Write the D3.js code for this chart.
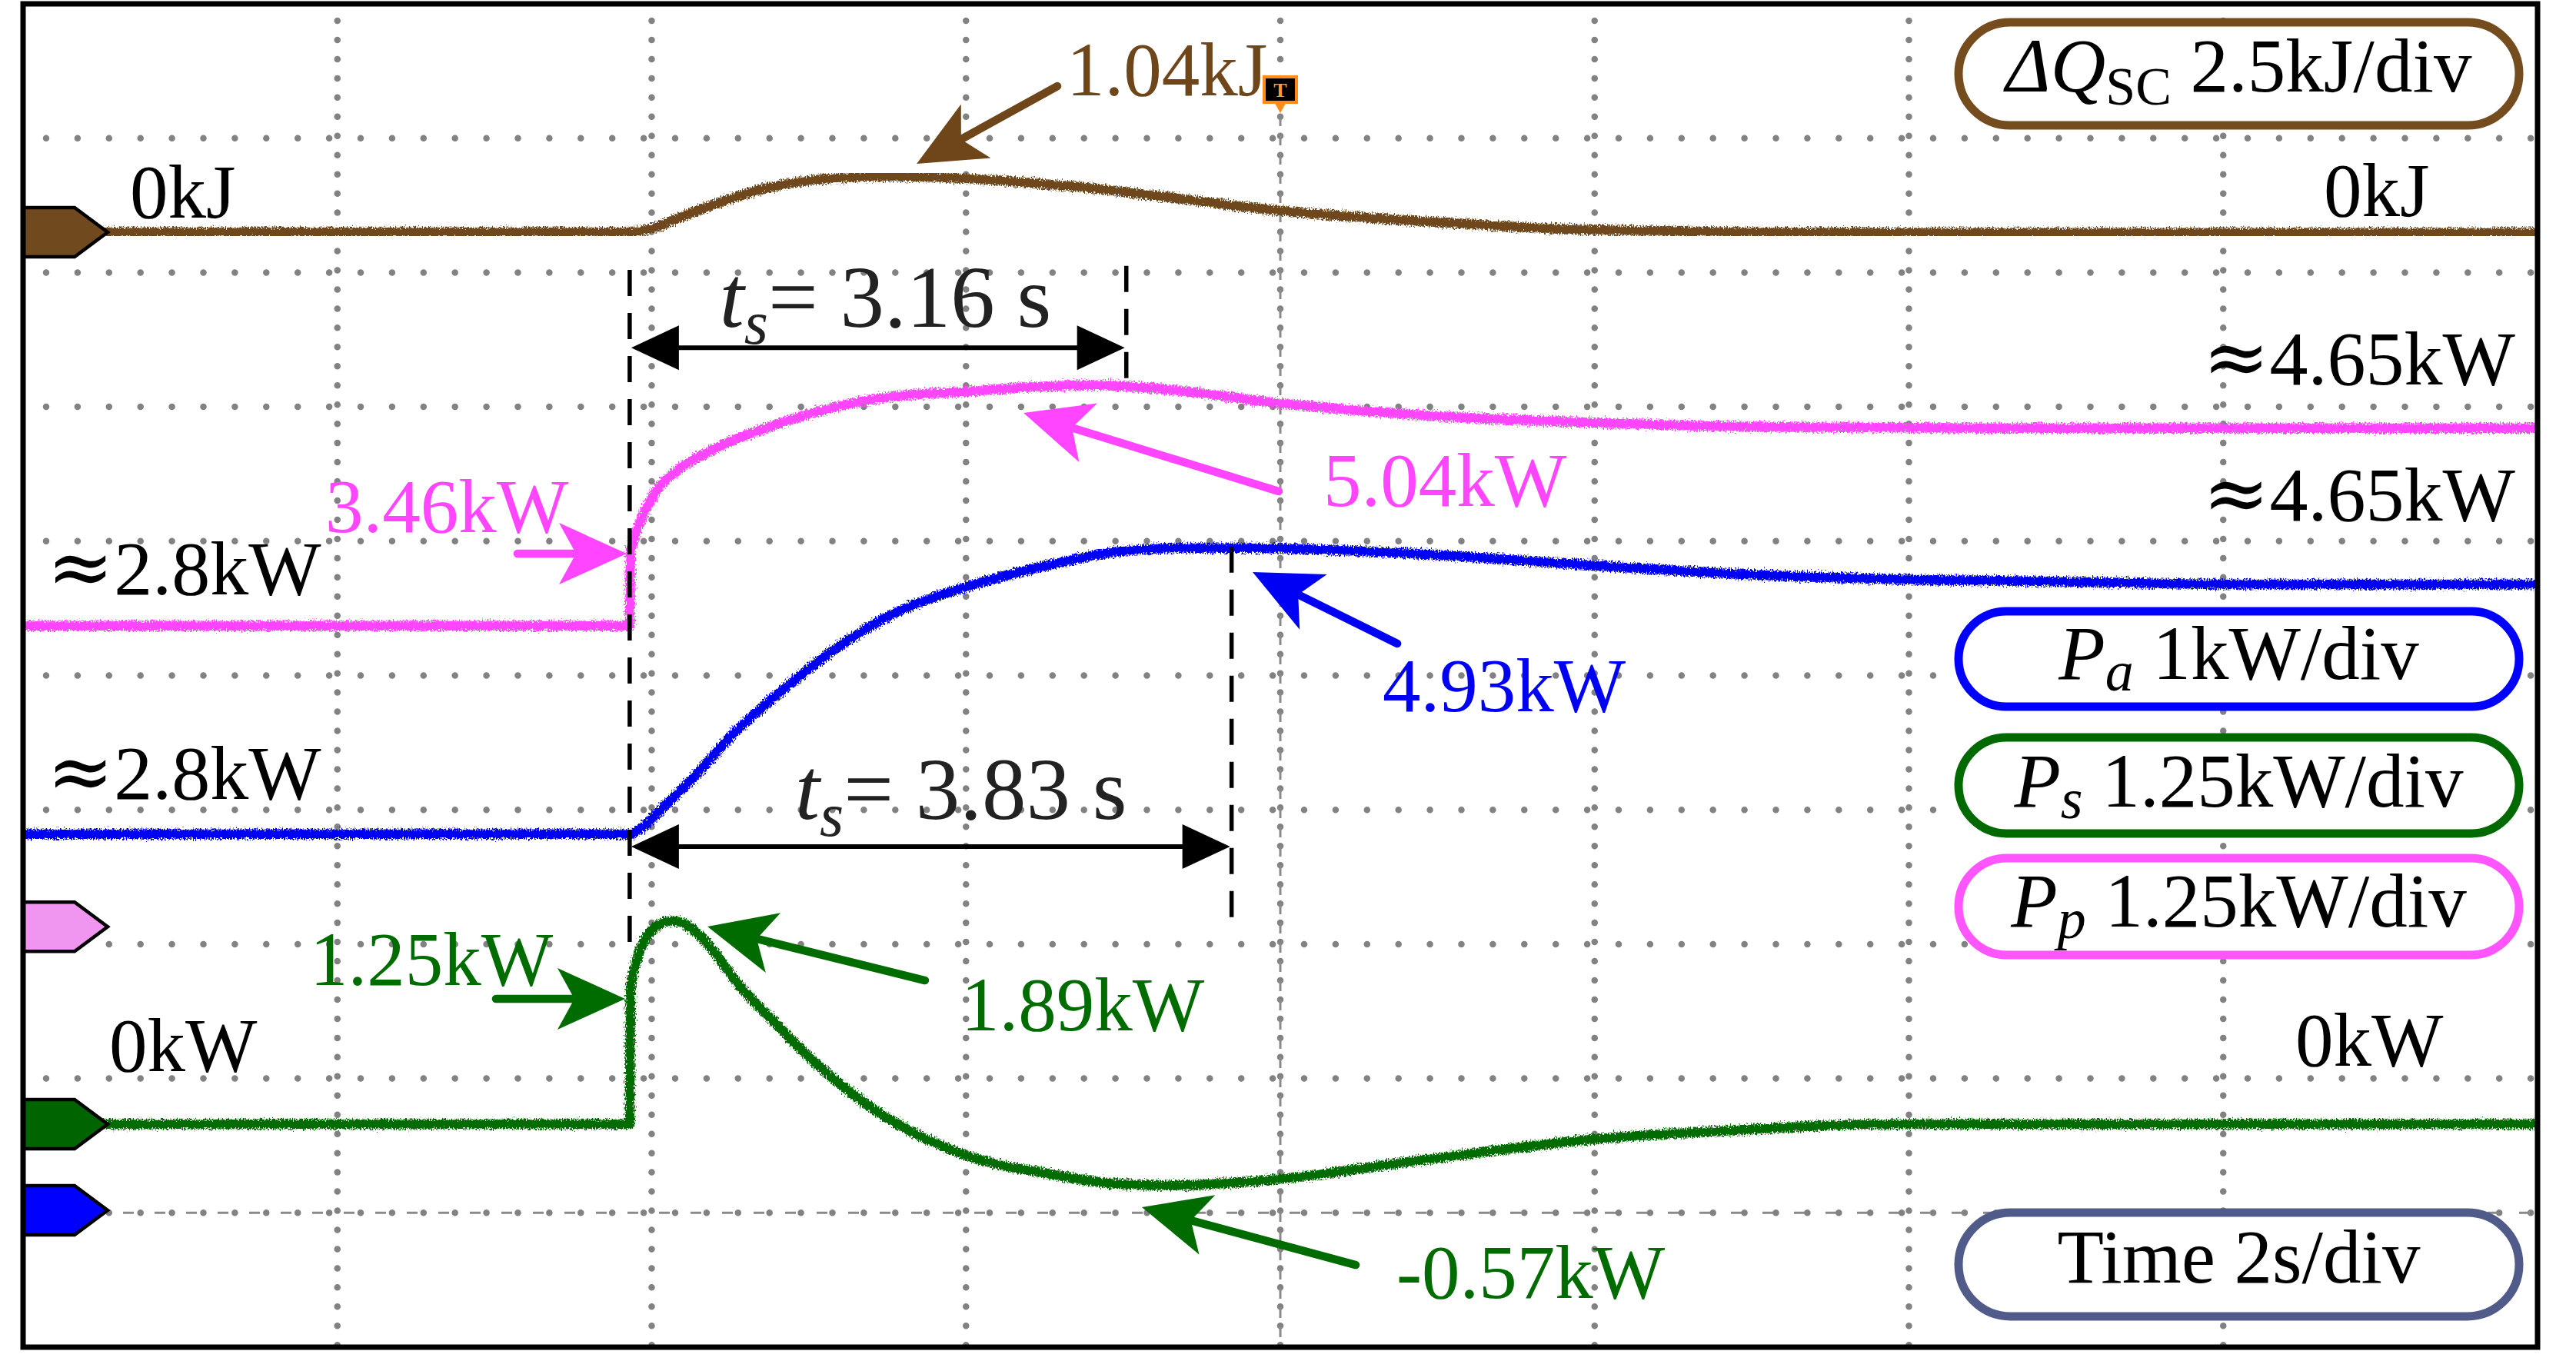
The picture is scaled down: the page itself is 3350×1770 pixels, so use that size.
<!DOCTYPE html>
<html>
<head>
<meta charset="utf-8">
<script src="https://cdn.jsdelivr.net/npm/d3@7"></script>
<style>
  html, body { margin: 0; padding: 0; background: #fff; }
  svg { display: block; }
  text { font-family: "Liberation Serif", "Times New Roman", serif; }
</style>
</head>
<body>
<div id="scope"></div>
<script>
// ---- data (time in s, values in channel units) ----
var stepTime = 3.86;          // load step
var tsPa = 3.16, tsPa2 = 3.83; // settling times written on the figure

// delta Q_SC (kJ)
var qTime  = [0, 3.86, 4.0, 4.2, 4.4, 4.7, 5.0, 5.5, 6.0, 6.4, 6.8, 7.4, 8.0, 8.6, 9.2, 9.8, 10.4, 11.0, 12.5, 16];
var qValue = [0, 0, 0.07, 0.3, 0.52, 0.8, 0.96, 1.04, 1.0, 0.92, 0.82, 0.61, 0.4, 0.26, 0.15, 0.06, 0.02, 0, -0.01, -0.01];

// P_p (kW)
var ppTime  = [0, 3.86, 3.865, 3.89, 3.93, 4.03, 4.15, 4.4, 4.77, 5.18, 5.52, 6.0, 6.4, 6.8, 7.2, 8.0, 9.15, 10.0, 11.1, 12.5, 16];
var ppValue = [2.8, 2.8, 3.46, 3.63, 3.78, 4.06, 4.23, 4.45, 4.66, 4.84, 4.93, 4.98, 5.02, 5.04, 5.01, 4.87, 4.74, 4.69, 4.65, 4.64, 4.64];

// P_a (kW)
var paTime  = [0, 3.86, 3.95, 4.03, 4.28, 4.53, 4.78, 5.02, 5.27, 5.52, 6.0, 6.52, 6.95, 7.4, 7.8, 8.2, 8.82, 10.0, 10.85, 11.84, 13, 14, 16];
var paValue = [2.8, 2.8, 2.86, 2.95, 3.24, 3.56, 3.82, 4.05, 4.26, 4.43, 4.64, 4.80, 4.90, 4.93, 4.93, 4.92, 4.89, 4.80, 4.74, 4.70, 4.68, 4.66, 4.66];

// P_s (kW)
var psTime  = [0, 3.86, 3.865, 3.9, 3.95, 4.03, 4.12, 4.2, 4.28, 4.4, 4.53, 4.78, 5.02, 5.27, 5.52, 6.0, 6.52, 7.0, 7.3, 8.0, 8.82, 10.0, 10.85, 11.84, 13, 16];
var psValue = [0, 0, 1.25, 1.5, 1.7, 1.84, 1.89, 1.87, 1.79, 1.6, 1.34, 0.95, 0.60, 0.29, 0.04, -0.29, -0.46, -0.56, -0.57, -0.51, -0.35, -0.14, -0.06, 0.0, 0.0, 0.0];

// channel settings: gain per division and where zero sits (divisions from bottom)
var chNames   = ['q', 'pp', 'pa', 'ps'];
var chPerDiv  = [2.5, 1.25, 1, 1.25];
var chZeroDiv = [8.30, 3.13, 1.019, 1.66];
var chColor   = ['#6e461a', '#ff45ff', '#0000f2', '#006c00'];
var chMarker  = ['#704a1e', '#f096f0', '#0000ff', '#006400'];

var timeTicks = d3.range(2, 16, 2);
var divTicks = d3.range(1, 10);

// ---- layout ----
var W = 3350, H = 1770;
var fL = 30, fR = 3300, fT = 5, fB = 1752;

var x = d3.scaleLinear().domain([0, 16]).range([fL, fR]);
var yDiv = d3.scaleLinear().domain([0, 10]).range([fB, fT]);

function yCh(i) {
  return function(v) { return yDiv(chZeroDiv[i] + v / chPerDiv[i]); };
}

var svg = d3.select('#scope').append('svg')
    .attr('width', W)
    .attr('height', H);

var defs = svg.append('defs');
defs.append('clipPath').attr('id', 'screen')
  .append('rect').attr('x', fL).attr('y', fT)
  .attr('width', fR - fL).attr('height', fB - fT);

// fuzzy look of sampled traces
var fz = defs.append('filter').attr('id', 'fuzz')
    .attr('x', '-2%').attr('y', '-5%').attr('width', '104%').attr('height', '110%');
fz.append('feTurbulence').attr('type', 'fractalNoise')
    .attr('baseFrequency', '0.7 0.35').attr('numOctaves', 2).attr('seed', 3).attr('result', 'n');
fz.append('feDisplacementMap').attr('in', 'SourceGraphic').attr('in2', 'n')
    .attr('scale', 11).attr('xChannelSelector', 'R').attr('yChannelSelector', 'G');

svg.append('rect').attr('width', W).attr('height', H).attr('fill', '#fff');

// ---- graticule ----
var grid = svg.append('g').attr('clip-path', 'url(#screen)');

grid.selectAll('line.v').data(timeTicks).enter().append('line')
    .attr('class', 'v')
    .attr('x1', function(d) { return x(d); })
    .attr('x2', function(d) { return x(d); })
    .attr('y1', fT + 22).attr('y2', fB)
    .attr('stroke', '#828282')
    .attr('stroke-width', 8.5)
    .attr('stroke-linecap', 'round')
    .attr('stroke-dasharray', '0 24.96');

grid.selectAll('line.h').data(divTicks).enter().append('line')
    .attr('class', 'h')
    .attr('x1', fL + 30).attr('x2', fR)
    .attr('y1', function(d) { return yDiv(d); })
    .attr('y2', function(d) { return yDiv(d); })
    .attr('stroke', '#828282')
    .attr('stroke-width', 8.5)
    .attr('stroke-linecap', 'round')
    .attr('stroke-dasharray', '0 40.9');

// reference lines drawn dashed (centre time line and lowest division)
grid.append('line')
    .attr('x1', x(8)).attr('x2', x(8))
    .attr('y1', 150).attr('y2', fB)
    .attr('stroke', '#8a8a8a').attr('stroke-width', 3)
    .attr('stroke-dasharray', '14 11');
grid.append('line')
    .attr('x1', fL).attr('x2', fR)
    .attr('y1', yDiv(1)).attr('y2', yDiv(1))
    .attr('stroke', '#8a8a8a').attr('stroke-width', 3)
    .attr('stroke-dasharray', '14 27').attr('stroke-dashoffset', -7);

// ---- traces ----
var series = [
  d3.zip(qTime, qValue),
  d3.zip(ppTime, ppValue),
  d3.zip(paTime, paValue),
  d3.zip(psTime, psValue)
];

var traces = svg.append('g').attr('clip-path', 'url(#screen)');
var drawOrder = [0, 1, 3, 2];
drawOrder.forEach(function(i) {
  var line = d3.line()
      .x(function(d) { return x(d[0]); })
      .y(function(d) { return yCh(i)(d[1]); })
      .curve(d3.curveMonotoneX);
  traces.append('path')
      .datum(series[i])
      .attr('class', 'trace ' + chNames[i])
      .attr('d', line)
      .attr('fill', 'none')
      .attr('stroke', chColor[i])
      .attr('stroke-width', 12.5)
      .attr('stroke-linejoin', 'round')
      .attr('filter', 'url(#fuzz)');
});

// channel ground markers
chNames.forEach(function(n, i) {
  var yc = yCh(i)(0);
  var pts = [[fL, yc - 32], [fL + 67, yc - 32], [fL + 110, yc], [fL + 67, yc + 32], [fL, yc + 32]];
  svg.append('path')
      .attr('d', 'M' + pts.join('L') + 'Z')
      .attr('fill', chMarker[i])
      .attr('stroke', '#000')
      .attr('stroke-width', 4.5)
      .attr('stroke-linejoin', 'miter');
});

// ---- settling time markers ----
var dash = svg.append('g')
    .attr('stroke', '#000').attr('stroke-width', 5.5)
    .attr('stroke-dasharray', '34 22');
dash.append('line').attr('x1', x(stepTime)).attr('x2', x(stepTime))
    .attr('y1', yDiv(8.02)).attr('y2', yDiv(3.0));
dash.append('line').attr('x1', x(stepTime + tsPa)).attr('x2', x(stepTime + tsPa))
    .attr('y1', yDiv(8.05)).attr('y2', yDiv(7.12));
dash.append('line').attr('x1', x(stepTime + tsPa2)).attr('x2', x(stepTime + tsPa2))
    .attr('y1', yDiv(5.96)).attr('y2', yDiv(3.08));

function arrowHead(g, tipX, tipY, ux, uy, L, hw, notch, color) {
  var bx = tipX - ux * L, by = tipY - uy * L;
  var nx = tipX - ux * (L - notch), ny = tipY - uy * (L - notch);
  var px = -uy, py = ux;
  g.append('path')
      .attr('d', 'M' + tipX + ',' + tipY +
        'L' + (bx + px * hw) + ',' + (by + py * hw) +
        'L' + nx + ',' + ny +
        'L' + (bx - px * hw) + ',' + (by - py * hw) + 'Z')
      .attr('fill', color);
}

function arrow(x1, y1, x2, y2, color, lw, L, hw, notch) {
  var g = svg.append('g');
  var dx = x2 - x1, dy = y2 - y1, len = Math.sqrt(dx * dx + dy * dy);
  var ux = dx / len, uy = dy / len;
  var ex = x2 - ux * (L - notch - 2), ey = y2 - uy * (L - notch - 2);
  g.append('line')
      .attr('x1', x1).attr('y1', y1).attr('x2', ex).attr('y2', ey)
      .attr('stroke', color).attr('stroke-width', lw)
      .attr('stroke-linecap', 'round');
  arrowHead(g, x2, y2, ux, uy, L, hw, notch, color);
}

function spanArrow(t1, t2, d) {
  var g = svg.append('g');
  var y = yDiv(d), xa = x(t1) + 2, xb = x(t2) - 2;
  g.append('line').attr('x1', xa + 40).attr('x2', xb - 40)
      .attr('y1', y).attr('y2', y)
      .attr('stroke', '#000').attr('stroke-width', 6);
  arrowHead(g, xa, y, -1, 0, 62, 29, 0, '#000');
  arrowHead(g, xb, y, 1, 0, 62, 29, 0, '#000');
}

spanArrow(stepTime, stepTime + tsPa, 7.44);
spanArrow(stepTime, stepTime + tsPa2, 3.726);

function tsLabel(t, d, value) {
  var tx = svg.append('text')
      .attr('x', x(t)).attr('y', yDiv(d))
      .attr('font-size', 115)
      .attr('fill', '#222');
  tx.append('tspan').attr('font-style', 'italic').text('t');
  tx.append('tspan').attr('font-style', 'italic').attr('font-size', 80).attr('dy', 22).text('s');
  tx.append('tspan').attr('dy', -22).text('= ' + value + ' s');
}
tsLabel(4.432, 7.596, tsPa.toFixed(2));
tsLabel(4.913, 3.932, tsPa2.toFixed(2));

// ---- annotations: [from t, from div, tip t, tip div, colour] ----
var noteArrows = [
  [6.581, 9.387, 5.686, 8.809, chColor[0]],
  [7.990, 6.371, 6.366, 6.955, chColor[1]],
  [3.146, 5.907, 3.841, 5.907, chColor[1]],
  [8.744, 5.238, 7.824, 5.770, chColor[2]],
  [3.009, 2.593, 3.831, 2.593, chColor[3]],
  [5.739, 2.730, 4.355, 3.131, chColor[3]],
  [8.480, 0.612, 7.119, 1.042, chColor[3]]
];
noteArrows.forEach(function(a) {
  arrow(x(a[0]), yDiv(a[1]), x(a[2]), yDiv(a[3]), a[4], 10.5, 88, 40, 22);
});

// [text, t, div, colour, anchor]
var noteTexts = [
  ['1.04kJ', 6.640, 9.319, chColor[0], 'start'],
  ['5.04kW', 8.274, 6.262, chColor[1], 'start'],
  ['3.46kW', 1.923, 6.068, chColor[1], 'start'],
  ['4.93kW', 8.651, 4.734, chColor[2], 'start'],
  ['1.25kW', 1.825, 2.696, chColor[3], 'start'],
  ['1.89kW', 5.969, 2.358, chColor[3], 'start'],
  ['-0.57kW', 8.739, 0.366, chColor[3], 'start'],
  ['0kJ', 0.680, 8.409, '#000', 'start'],
  ['0kJ', 14.640, 8.420, '#000', 'start'],
  ['0kW', 0.548, 2.055, '#000', 'start'],
  ['0kW', 14.459, 2.095, '#000', 'start']
];
svg.selectAll('text.note').data(noteTexts).enter().append('text')
    .attr('class', 'note')
    .attr('x', function(d) { return x(d[1]); })
    .attr('y', function(d) { return yDiv(d[2]); })
    .attr('text-anchor', function(d) { return d[4]; })
    .attr('font-size', 99)
    .attr('fill', function(d) { return d[3]; })
    .text(function(d) { return d[0]; });

// approximate levels: [value, t, div, anchor]
var approxTexts = [
  ['4.65kW', 15.858, 7.166, 'end'],
  ['4.65kW', 15.858, 6.153, 'end'],
  ['2.8kW', 0.152, 5.604, 'start'],
  ['2.8kW', 0.152, 4.081, 'start']
];
approxTexts.forEach(function(d) {
  var tx = svg.append('text')
      .attr('x', x(d[1])).attr('y', yDiv(d[2]))
      .attr('text-anchor', d[3])
      .attr('font-size', 100)
      .attr('fill', '#000');
  tx.append('tspan').attr('font-family', 'DejaVu Serif').attr('font-size', 104).text('\u2248');
  tx.append('tspan').text(d[0]);
});

// trigger position flag
var trig = svg.append('g');
trig.append('path')
    .attr('d', 'M' + (x(8) - 9) + ',131L' + (x(8) + 9) + ',131L' + x(8) + ',147Z')
    .attr('fill', '#ff8c1a');
trig.append('rect')
    .attr('x', x(8) - 21).attr('y', 100).attr('width', 42).attr('height', 33)
    .attr('fill', '#000').attr('stroke', '#ff8c1a').attr('stroke-width', 4);
trig.append('text')
    .attr('x', x(8)).attr('y', 126)
    .attr('text-anchor', 'middle')
    .attr('font-family', 'DejaVu Sans').attr('font-weight', 'bold')
    .attr('font-size', 26).attr('fill', '#ff9a30')
    .text('T');

// ---- scale boxes ----
var boxX0 = 2547, boxX1 = 3276, boxMid = (boxX0 + boxX1) / 2;
var boxTop    = [29, 795, 959, 1116, 1577];
var boxBottom = [163, 919, 1084, 1242, 1712];
var boxStroke = ['#754c1e', '#0000ff', '#006a00', '#ff55ff', '#515b8a'];
var boxBase   = [119, 883, 1049, 1205, 1668];

boxTop.forEach(function(t, i) {
  var h = boxBottom[i] - t;
  svg.append('rect')
      .attr('x', boxX0).attr('y', t)
      .attr('width', boxX1 - boxX0).attr('height', h)
      .attr('rx', h / 2).attr('ry', h / 2)
      .attr('fill', '#fff')
      .attr('stroke', boxStroke[i])
      .attr('stroke-width', 11);
});

function boxText(i, parts) {
  var tx = svg.append('text')
      .attr('x', boxMid).attr('y', boxBase[i])
      .attr('text-anchor', 'middle')
      .attr('font-size', 99)
      .attr('fill', '#000');
  parts.forEach(function(p) {
    var s = tx.append('tspan').text(p.s);
    if (p.it) s.attr('font-style', 'italic');
    if (p.fs) s.attr('font-size', p.fs);
    if (p.dy) s.attr('dy', p.dy);
  });
}
boxText(0, [{s: '\u0394Q', it: true}, {s: 'SC', fs: 70, dy: 17}, {s: ' 2.5kJ/div', dy: -17}]);
boxText(1, [{s: 'P', it: true}, {s: 'a', it: true, fs: 74, dy: 15}, {s: ' 1kW/div', dy: -15}]);
boxText(2, [{s: 'P', it: true}, {s: 's', it: true, fs: 74, dy: 15}, {s: ' 1.25kW/div', dy: -15}]);
boxText(3, [{s: 'P', it: true}, {s: 'p', it: true, fs: 74, dy: 15}, {s: ' 1.25kW/div', dy: -15}]);
boxText(4, [{s: 'Time 2s/div'}]);

// ---- frame ----
svg.append('rect')
    .attr('x', fL).attr('y', fT)
    .attr('width', fR - fL).attr('height', fB - fT)
    .attr('fill', 'none')
    .attr('stroke', '#000')
    .attr('stroke-width', 7);
</script>
</body>
</html>
